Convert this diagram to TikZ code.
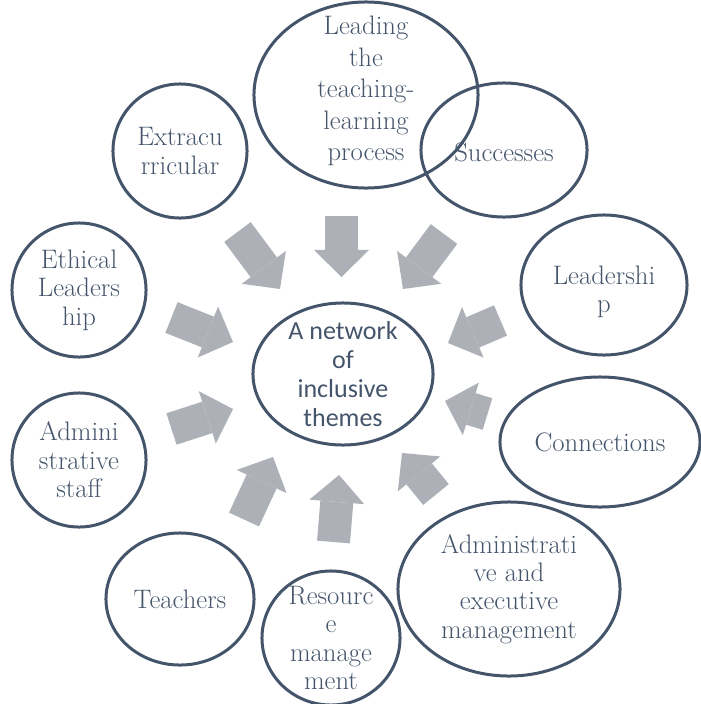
\documentclass[tikz,border=0pt]{standalone}
\usepackage{fontspec}
\newfontfamily\calibrifont{Carlito}
\usepackage{tikz}
\usetikzlibrary{shapes.geometric}
\usetikzlibrary{arrows.meta}
\definecolor{slate}{HTML}{44546A}
\definecolor{arrowgray}{HTML}{ADB0B7}
\tikzset{
 theme/.style 2 args = {ellipse, draw=slate, line width=0.075cm, minimum width=#1*0.05cm, minimum height=#2*0.05cm, inner sep=0pt},
 themetext/.style = {text=slate, align=center, font=\rmfamily\fontsize{19}{20.2}\selectfont},
 hubtext/.style = {text=slate, align=center, font=\calibrifont\fontsize{18.5}{20.7}\selectfont},
 inarrow/.style = {draw=arrowgray, line width=0.825cm, -{Triangle[length=0.675cm, width=1.375cm, line width=0pt]}}
}

\begin{document}
\begin{tikzpicture} [x=0.025cm, y=-0.025cm]
\useasboundingbox (0,0) rectangle (701,704);
\node[theme={90}{71}] (net) at (343,374) {};
\node[hubtext] (net-text) at (net.center) {A network\\of\\inclusive\\themes};
\node[theme={112}{93}] (lead) at (366,95) {};
\node[themetext, font=\rmfamily\fontsize{19}{22.5}\selectfont] (lead-text) at (366,91) {Leading\\the\\teaching-\\learning\\process};
\node[theme={83}{67}] (succ) at (504,150) {};
\node[themetext] (succ-text) at (504,152) {Successes};
\node[theme={67}{67}] (extra) at (180,151) {};
\node[themetext] (extra-text) at (extra.center) {Extracu\\rricular};
\node[theme={67}{67}] (ethic) at (79,290) {};
\node[themetext] (ethic-text) at (ethic.center) {Ethical\\Leaders\\hip};
\node[theme={83}{70}] (ldr) at (604,285) {};
\node[themetext] (ldr-text) at (604,292) {Leadershi\\p};
\node[theme={100}{65}] (conn) at (600,442) {};
\node[themetext] (conn-text) at (conn.center) {Connections};
\node[theme={111}{87}] (admex) at (509,589) {};
\node[themetext] (admex-text) at (admex.center) {Administrati\\ve and\\executive\\management};
\node[theme={69}{67}] (res) at (331,638) {};
\node[themetext] (res-text) at (res.center) {Resourc\\e\\manage\\ment};
\node[theme={74}{66}] (teach) at (180,599) {};
\node[themetext] (teach-text) at (teach.center) {Teachers};
\node[theme={67}{67}] (adst) at (79,460) {};
\node[themetext] (adst-text) at (adst.center) {Admini\\strative\\staff};
\foreach \n/\tx/\ty/\hx/\hy in {extra/237.5/232/280/289, lead/341.5/216/341.5/277, succ/444/234/403/289,
  ethic/171.5/317.5/233/342, ldr/500.5/320.5/448/343, adst/171.5/429/233/409, conn/487.5/414/445/401,
  teach/244/519.5/273/457, res/333.5/542/339/475, admex/436/494.5/402/453} {
 \coordinate (\n-tail) at (\tx,\ty);
 \coordinate (\n-tip) at (\hx,\hy);
 \draw[inarrow] (\n-tail) -- (\n-tip);
}
\end{tikzpicture}
\end{document}
